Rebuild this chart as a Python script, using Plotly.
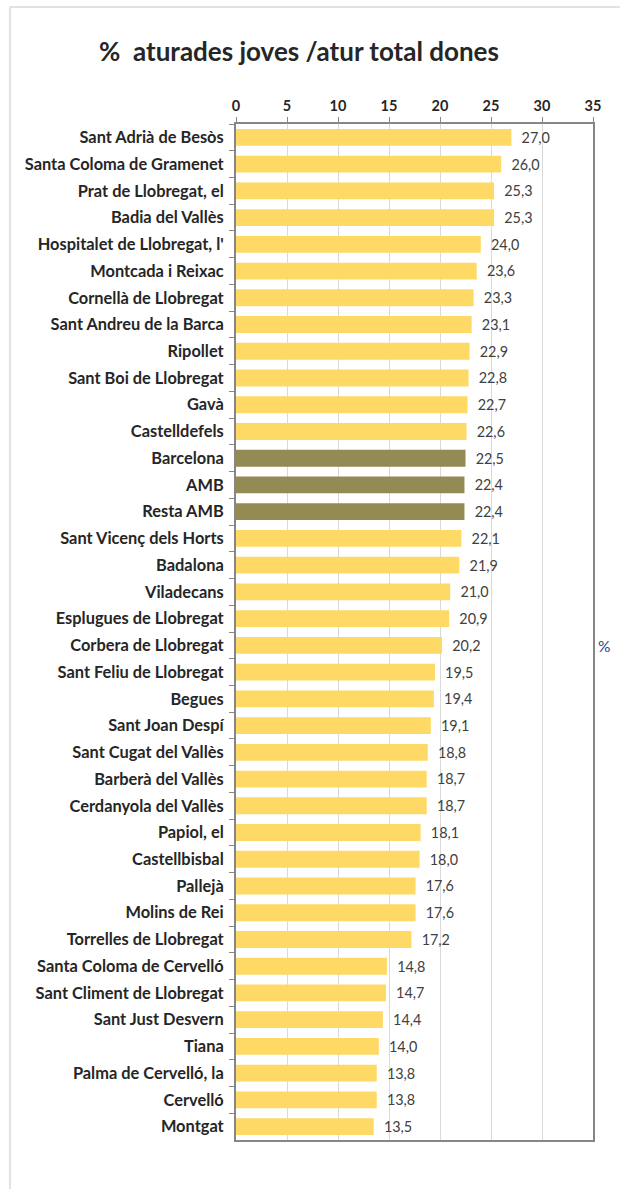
import plotly.graph_objects as go

categories = [
    "Sant Adrià de Besòs", "Santa Coloma de Gramenet", "Prat de Llobregat, el",
    "Badia del Vallès", "Hospitalet de Llobregat, l'", "Montcada i Reixac",
    "Cornellà de Llobregat", "Sant Andreu de la Barca", "Ripollet",
    "Sant Boi de Llobregat", "Gavà", "Castelldefels", "Barcelona", "AMB",
    "Resta AMB", "Sant Vicenç dels Horts", "Badalona", "Viladecans",
    "Esplugues de Llobregat", "Corbera de Llobregat", "Sant Feliu de Llobregat",
    "Begues", "Sant Joan Despí", "Sant Cugat del Vallès", "Barberà del Vallès",
    "Cerdanyola del Vallès", "Papiol, el", "Castellbisbal", "Pallejà",
    "Molins de Rei", "Torrelles de Llobregat", "Santa Coloma de Cervelló",
    "Sant Climent de Llobregat", "Sant Just Desvern", "Tiana",
    "Palma de Cervelló, la", "Cervelló", "Montgat",
]
values = [
    27.0, 26.0, 25.3, 25.3, 24.0, 23.6, 23.3, 23.1, 22.9, 22.8, 22.7, 22.6,
    22.5, 22.4, 22.4, 22.1, 21.9, 21.0, 20.9, 20.2, 19.5, 19.4, 19.1, 18.8,
    18.7, 18.7, 18.1, 18.0, 17.6, 17.6, 17.2, 14.8, 14.7, 14.4, 14.0, 13.8,
    13.8, 13.5,
]
highlight = ["Barcelona", "AMB", "Resta AMB"]
x_ticks = [0, 5, 10, 15, 20, 25, 30, 35]

YELLOW = "#FFD966"
OLIVE = "#948A54"
colors = [OLIVE if c in highlight else YELLOW for c in categories]

fig = go.Figure()
fig.add_trace(go.Bar(
    x=values, y=categories, orientation="h",
    marker=dict(color=colors, line=dict(width=0)),
    text=values, texttemplate="\u2002%{x:.1f}", textposition="outside",
    textfont=dict(family="Lato", size=14.5, color="#404040"),
    cliponaxis=False, hoverinfo="skip",
))

W, H = 620, 1189
L, R, T, B = 236, 27, 124, 49
pw, ph = W - L - R, H - T - B

fig.update_layout(
    width=W, height=H,
    margin=dict(l=L, r=R, t=T, b=B),
    paper_bgcolor="white", plot_bgcolor="white",
    separators=",.",
    bargap=0.37,
    showlegend=False,
    title=dict(text="%  aturades joves /atur total dones", x=299 / W, xanchor="center",
               y=1 - 52 / H, yanchor="middle",
               font=dict(family="Lato", size=26, color="#262626", weight="bold")),
    xaxis=dict(
        side="top", range=[0, 35], tickvals=x_ticks, ticktext=[str(v) for v in x_ticks],
        showgrid=True, gridcolor="#D9D9D9", gridwidth=1,
        showline=True, linecolor="#868686", linewidth=2, mirror=True,
        ticks="outside", ticklen=5, tickcolor="#868686", tickwidth=1,
        tickfont=dict(family="Lato", size=14.5, color="#262626", weight="bold"),
        zeroline=False, fixedrange=True,
    ),
    yaxis=dict(
        type="category", autorange="reversed",
        showline=True, linecolor="#868686", linewidth=2, mirror=True,
        ticks="outside", ticklen=5, tickcolor="#868686", tickwidth=1,
        tickson="boundaries", ticklabelstandoff=7,
        tickfont=dict(family="Lato", size=16.4, color="#262626", weight="bold"),
        showgrid=False, fixedrange=True,
    ),
)

# outer chart frame (left and top edges visible)
fx = (10 - L) / pw
fy = (H - B - 7) / ph
fig.add_shape(type="line", xref="paper", yref="paper", x0=fx, x1=fx, y0=-0.2, y1=fy,
              line=dict(color="#D9D9D9", width=1.5))
fig.add_shape(type="line", xref="paper", yref="paper", x0=fx, x1=1.2, y0=fy, y1=fy,
              line=dict(color="#D9D9D9", width=1.5))

fig.add_annotation(text="%", xref="paper", yref="paper",
                   x=(604 - L) / pw, y=(H - B - 646) / ph, showarrow=False,
                   xanchor="center", yanchor="middle",
                   font=dict(family="Lato", size=15.5, color="#1F3F8F"))

fig.write_html("out.html", config={"displayModeBar": False},
               post_script="document.body.style.margin='0';document.body.style.overflow='hidden';")
